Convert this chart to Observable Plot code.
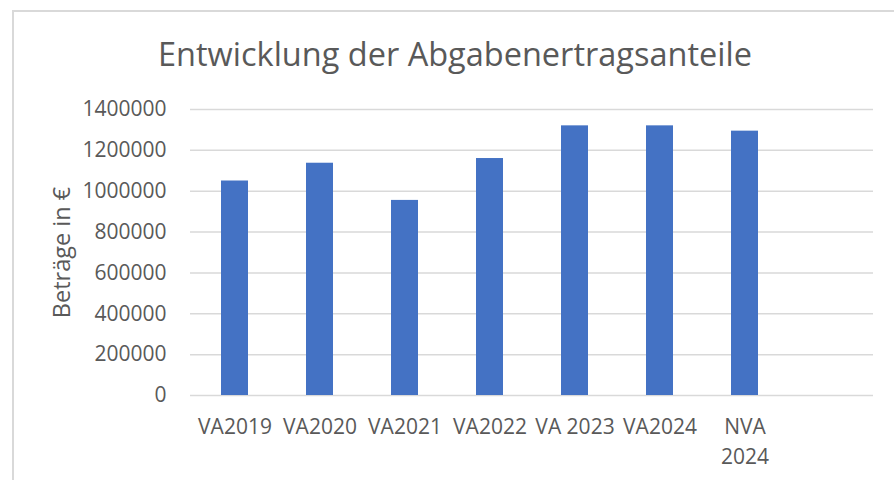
<!DOCTYPE html>
<html>
<head>
<meta charset="utf-8">
<script src="https://cdn.jsdelivr.net/npm/d3@7"></script>
<script src="https://cdn.jsdelivr.net/npm/@observablehq/plot@0.6"></script>
<style>
  html, body { margin: 0; padding: 0; background: #fff; overflow: hidden; }
  #wrap { position: relative; width: 894px; height: 480px; font-family: "Open Sans", sans-serif; }
  #frame { position: absolute; left: 12px; top: 10px; width: 900px; height: 500px; border-left: 2px solid #d9d9d9; border-top: 2px solid #d9d9d9; box-sizing: border-box; }
  #title { position: absolute; left: 0; width: 910px; top: 38px; text-align: center; font-size: 32.5px; color: #595959; line-height: 1; }
  #chart { position: absolute; left: 0; top: 0; }
</style>
</head>
<body>
<div id="wrap">
  <div id="frame"></div>
  <div id="chart"></div>
  <div id="title">Entwicklung der Abgabenertragsanteile</div>
</div>
<script>
const categories = ["VA2019", "VA2020", "VA2021", "VA2022", "VA 2023", "VA2024", "NVA 2024"];
const values = [1050000, 1137000, 955000, 1160000, 1320000, 1320000, 1294000];
const tickLabels = ["VA2019", "VA2020", "VA2021", "VA2022", "VA 2023", "VA2024", "NVA\n2024"];
const yTicks = [0, 200000, 400000, 600000, 800000, 1000000, 1200000, 1400000];
const yLabel = "Beträge in €";

const data = categories.map((c, i) => ({category: c, value: values[i]}));
const labelOf = new Map(categories.map((c, i) => [c, tickLabels[i]]));
const domain = [...categories, ""]; // empty trailing slot as in the original

const chart = Plot.plot({
  width: 894,
  height: 480,
  marginTop: 109,
  marginBottom: 85,
  marginLeft: 190,
  marginRight: 21,
  style: {fontFamily: "Open Sans, sans-serif", fontSize: "21px", color: "#595959", background: "transparent"},
  x: {domain, paddingInner: 0.684, paddingOuter: 0.342, align: 0.5},
  y: {domain: [0, 1400000]},
  marks: [
    Plot.gridY(yTicks, {stroke: "#d9d9d9", strokeOpacity: 1, strokeWidth: 1.5}),
    Plot.barY(data, {x: "category", y: "value", fill: "#4472C4"}),
    Plot.axisY(yTicks, {tickSize: 0, tickPadding: 24, tickFormat: d3.format("d"), fontSize: 21, fill: "#595959", label: null}),
    Plot.text([yLabel], {frameAnchor: "left", textAnchor: "middle", rotate: -90, dx: -128, fontSize: 23.5, fill: "#595959"}),
    Plot.axisX({tickSize: 0, tickPadding: 18, fontSize: 21, fill: "#595959", lineHeight: 1.4,
      tickFormat: d => d === "" ? "" : labelOf.get(d), label: null})
  ]
});
document.getElementById("chart").append(chart);
</script>
</body>
</html>
